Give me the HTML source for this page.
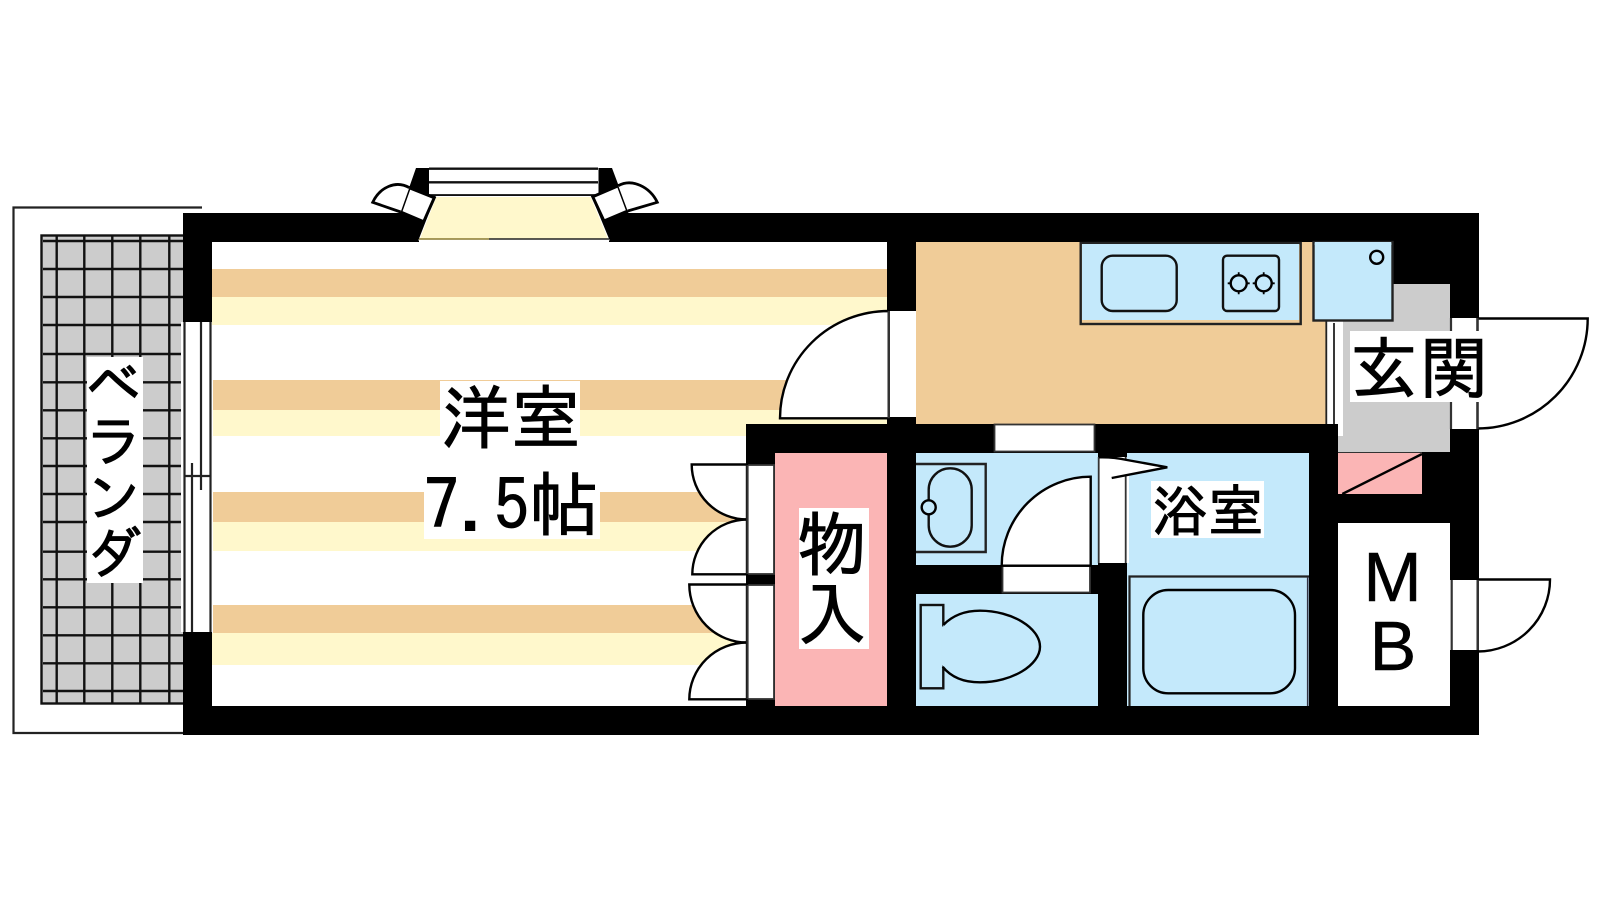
<!DOCTYPE html>
<html><head><meta charset="utf-8">
<style>html,body{margin:0;padding:0;background:#fff;width:1600px;height:900px;overflow:hidden}svg{display:block}
text{font-family:"IPAGothic","Noto Sans CJK JP",sans-serif;fill:#000;stroke:#000;stroke-width:0.9px}</style></head><body>
<svg width="1600" height="900" viewBox="0 0 1600 900" xmlns="http://www.w3.org/2000/svg">
<rect width="1600" height="900" fill="#fff"/>
<!-- balcony -->
<polyline points="202,207.500 13.500,207.500 13.500,733 183,733" fill="none" stroke="#222" stroke-width="2.200"/>
<rect x="41.500" y="235.500" width="145" height="468" fill="#ccc" stroke="#111" stroke-width="2.400"/>
<g stroke="#111" stroke-width="2.400" fill="none">
<path d="M56.700 235V703M84.300 235V703M112.300 235V703M140.300 235V703M169.300 235V703"/>
<path d="M43 241H183M43 269H183M43 297H183M43 325H183M43 354H183M43 382.300H183M43 410.300H183M43 438.300H183M43 466H183M43 494H183M43 522H183M43 551.700H183M43 579.300H183M43 607.300H183M43 635.300H183M43 663.300H183M43 691H183"/>
</g>
<!-- black structure -->
<rect x="183" y="213" width="1296" height="522" fill="#000"/>
<polygon points="416,168 612,168 618,184 628,213 400,213 409,188" fill="#000"/>
<!-- living -->
<rect x="212" y="242" width="675" height="182" fill="#fff"/>
<rect x="212" y="424" width="534" height="282" fill="#fff"/>
<rect x="212" y="269" width="675" height="28" fill="#F0CC98"/>
<rect x="212" y="297" width="675" height="28" fill="#FFF8CC"/>
<rect x="213" y="380" width="674" height="30" fill="#F0CC98"/>
<rect x="213" y="410" width="674" height="14" fill="#FFF8CC"/>
<rect x="213" y="424" width="533" height="12" fill="#FFF8CC"/>
<rect x="213" y="492" width="533" height="30" fill="#F0CC98"/>
<rect x="213" y="522" width="533" height="29" fill="#FFF8CC"/>
<rect x="213" y="605" width="533" height="28" fill="#F0CC98"/>
<rect x="212" y="633" width="534" height="32" fill="#FFF8CC"/>
<!-- left window -->
<rect x="181" y="322" width="31" height="310" fill="#fff"/>
<g stroke="#222" stroke-width="2.200" fill="none">
<path d="M184.500 322V632M210.500 322V632M201 322V490M192 463V632M184 476H211"/>
</g>
<!-- bay window -->
<rect x="429" y="168" width="169.500" height="28" fill="#fff"/>
<path d="M429 168.700H598M429 182.300H598M429 195.300H598" stroke="#111" stroke-width="2.400" fill="none"/>
<polygon points="436,196.500 591,196.500 609,240 419,240" fill="#FFF8CC" stroke="#fff" stroke-width="1"/>
<rect x="419" y="240" width="190" height="2" fill="#fff"/>
<path d="M419 239H489" stroke="#8a7a30" stroke-width="1.500"/><path d="M489 239H609" stroke="#222" stroke-width="1.500"/>
<polygon points="409.300,187.700 434.300,197.700 423.700,221.700 400.700,212" fill="#fff" stroke="#000" stroke-width="3"/>
<path d="M409.300 187.700C396 180 380 187 372.700 202.300L400.700 212" fill="#fff" stroke="#000" stroke-width="2.800"/>
<polygon points="592.700,196.700 618.300,185.700 627.700,211 604,221" fill="#fff" stroke="#000" stroke-width="3"/>
<path d="M618.300 185.700C632 178 650 187 657.300 202.300L627.700 211" fill="#fff" stroke="#000" stroke-width="2.800"/>
<!-- living door -->
<rect x="888" y="311" width="28" height="106" fill="#fff"/>
<path d="M888.700 311A108.700 107.300 0 0 0 780 418.300H888.700Z" fill="#fff" stroke="#000" stroke-width="2.400"/>
<path d="M888.700 311V418.300" stroke="#333" stroke-width="2.200"/>
<!-- closet -->
<rect x="775" y="453" width="112" height="253" fill="#FBB5B5"/>
<rect x="747.500" y="465" width="26.500" height="109" fill="#fff" stroke="#333" stroke-width="1.800"/>
<rect x="747.500" y="585" width="26.500" height="114" fill="#fff" stroke="#333" stroke-width="1.800"/>
<g fill="#fff" stroke="#000" stroke-width="2.400">
<path d="M747 464.500H691.700A55.300 55 0 0 0 747 519.500Z"/>
<path d="M747 519.500A55 55 0 0 0 692.300 574.300H747Z"/>
<path d="M747 584.500H689.300A57.700 58 0 0 0 747 642.500Z"/>
<path d="M747 642.500A57.700 57 0 0 0 689.300 699.300H747Z"/>
</g>
<path d="M747.500 465V574M747.500 585V699" stroke="#333" stroke-width="2.200"/>
<!-- kitchen -->
<rect x="916" y="242" width="397.500" height="182" fill="#F0CC98"/>
<rect x="1326" y="321" width="17" height="103" fill="#fff"/>
<rect x="1313" y="321" width="13" height="103" fill="#F0CC98"/>
<rect x="1338" y="424" width="5" height="12" fill="#fff"/>
<rect x="1343" y="284" width="107" height="168" fill="#ccc"/>
<rect x="1338" y="436" width="5" height="16" fill="#ccc"/>
<path d="M1326.300 317V424M1334 323V424" stroke="#222" stroke-width="1.800"/>
<rect x="1080.700" y="243" width="220" height="81" fill="#F0CC98" stroke="#222" stroke-width="2.400"/>
<rect x="1082" y="244" width="217" height="76" fill="#C4E9FB"/>
<rect x="1101.700" y="255.700" width="75" height="55.300" rx="11" fill="#C4E9FB" stroke="#111" stroke-width="2.400"/>
<rect x="1223" y="255.700" width="56" height="55.300" rx="4" fill="#C4E9FB" stroke="#111" stroke-width="2.400"/>
<g fill="none" stroke="#000" stroke-width="2.400">
<circle cx="1238.700" cy="283.300" r="8"/><circle cx="1263.700" cy="283.300" r="8"/>
<path d="M1227.700 283.300H1230.700M1246.700 283.300H1249.700M1252.700 283.300H1255.700M1271.700 283.300H1274.700M1238.700 272.300V275.300M1238.700 291.300V294.300M1263.700 272.300V275.300M1263.700 291.300V294.300" stroke-width="1.800"/>
</g>
<rect x="1313.500" y="242" width="79" height="78.500" fill="#C4E9FB" stroke="#222" stroke-width="2.400"/>
<rect x="1314.700" y="242" width="76.600" height="3" fill="#C4E9FB"/>
<circle cx="1376.700" cy="257.300" r="6.500" fill="#C4E9FB" stroke="#000" stroke-width="2.400"/>
<!-- top wall door -->
<rect x="994.500" y="424.500" width="100" height="27" fill="#fff" stroke="#333" stroke-width="1.800"/>
<!-- wash -->
<rect x="916" y="453" width="182" height="112" fill="#C4E9FB"/>
<path d="M916 464H985.700V552H916" fill="none" stroke="#222" stroke-width="2.400"/>
<rect x="928.700" y="468.300" width="43" height="78.400" rx="21.500" fill="#C4E9FB" stroke="#111" stroke-width="2.400"/>
<circle cx="928.700" cy="507.300" r="7" fill="#C4E9FB" stroke="#000" stroke-width="2.400"/>
<!-- toilet -->
<rect x="916" y="594" width="182" height="112" fill="#C4E9FB"/>
<rect x="920.700" y="605" width="22.600" height="83.300" fill="#C4E9FB" stroke="#111" stroke-width="2.400"/>
<path d="M943.300 625C953 615 966 610.700 980 610.700C1012 610.700 1040 628 1040 646.700C1040 665 1012 682.300 980 682.300C964 682.300 951 677 942.700 666.700" fill="#C4E9FB" stroke="#000" stroke-width="2.400"/>
<path d="M943.300 626.500V665.500" stroke="#C4E9FB" stroke-width="3"/>
<!-- wc door -->
<rect x="1002.500" y="566" width="87.500" height="26.500" fill="#fff" stroke="#333" stroke-width="1.800"/>
<path d="M1090.700 476.700A89 89 0 0 0 1001.700 565.700H1090.700Z" fill="#fff" stroke="#000" stroke-width="2.400"/>
<!-- bath -->
<rect x="1127" y="453" width="182" height="253" fill="#C4E9FB"/>
<path d="M1129.500 706V576.500H1309" fill="none" stroke="#222" stroke-width="2.200"/>
<path d="M1307.700 577V706" stroke="#334" stroke-width="1.600"/>
<rect x="1143.300" y="590" width="151.700" height="103.300" rx="25" fill="#C4E9FB" stroke="#000" stroke-width="2.400"/>
<rect x="1099" y="457" width="30" height="106" fill="#fff"/>
<rect x="1127" y="453" width="2" height="7" fill="#C4E9FB"/>
<path d="M1098.700 457V563M1125.700 457V563" stroke="#333" stroke-width="1.800"/>
<path d="M1099 457.300C1108 457 1118 458 1127 460L1167.300 467.300L1111.700 478" fill="#fff" stroke="#000" stroke-width="2.400"/>
<!-- shoe/pink -->
<rect x="1338" y="453" width="84" height="41" fill="#FBB5B5"/>
<path d="M1338 452.500H1422" stroke="#333" stroke-width="1"/>
<path d="M1342.300 494L1422 454" stroke="#000" stroke-width="2.400"/>
<!-- MB -->
<rect x="1338" y="523" width="112" height="183" fill="#fff"/>
<!-- entry door -->
<rect x="1450" y="318" width="29" height="111" fill="#fff"/>
<path d="M1477.500 318.500H1587.700A110.200 110 0 0 1 1477.500 428.500Z" fill="#fff" stroke="#000" stroke-width="2.400"/>
<path d="M1451 318V429M1477.500 318V429" stroke="#333" stroke-width="2.200"/>
<!-- MB door -->
<rect x="1450" y="580" width="29" height="70" fill="#fff"/>
<path d="M1477.700 579.500H1550A72.300 72 0 0 1 1477.700 651.500Z" fill="#fff" stroke="#000" stroke-width="2.400"/>
<path d="M1451.700 580V650M1477.700 580V650" stroke="#333" stroke-width="2.200"/>
<!-- labels -->
<rect x="87" y="357" width="56" height="226" fill="#fff"/>
<text x="85.500" y="405" font-size="56">ベ</text>
<text x="85.500" y="461" font-size="56">ラ</text>
<text x="85.500" y="518" font-size="56">ン</text>
<text x="85.500" y="574" font-size="56">ダ</text>
<rect x="440" y="381" width="140" height="70" fill="#fff"/>
<rect x="424" y="470" width="176" height="69" fill="#fff"/>
<text x="441" y="443" font-size="70">洋室</text>
<text x="424" y="530" font-size="70">7.5帖</text>
<rect x="799" y="508" width="70" height="141" fill="#fff"/>
<text x="797" y="570" font-size="70">物</text>
<text x="797" y="640" font-size="70">入</text>
<rect x="1151" y="481" width="113" height="57" fill="#fff"/>
<text x="1152" y="531" font-size="56">浴室</text>
<rect x="1350" y="331" width="133" height="71" fill="#fff"/>
<text x="1350" y="393" font-size="68" letter-spacing="2">玄関</text>
<text x="1392.500" y="601" font-size="70" text-anchor="middle" style="font-family:'Liberation Sans',sans-serif;stroke-width:0.5px">M</text>
<text x="1393" y="670" font-size="70" text-anchor="middle" style="font-family:'Liberation Sans',sans-serif;stroke-width:0.5px">B</text>
</svg>
</body></html>
